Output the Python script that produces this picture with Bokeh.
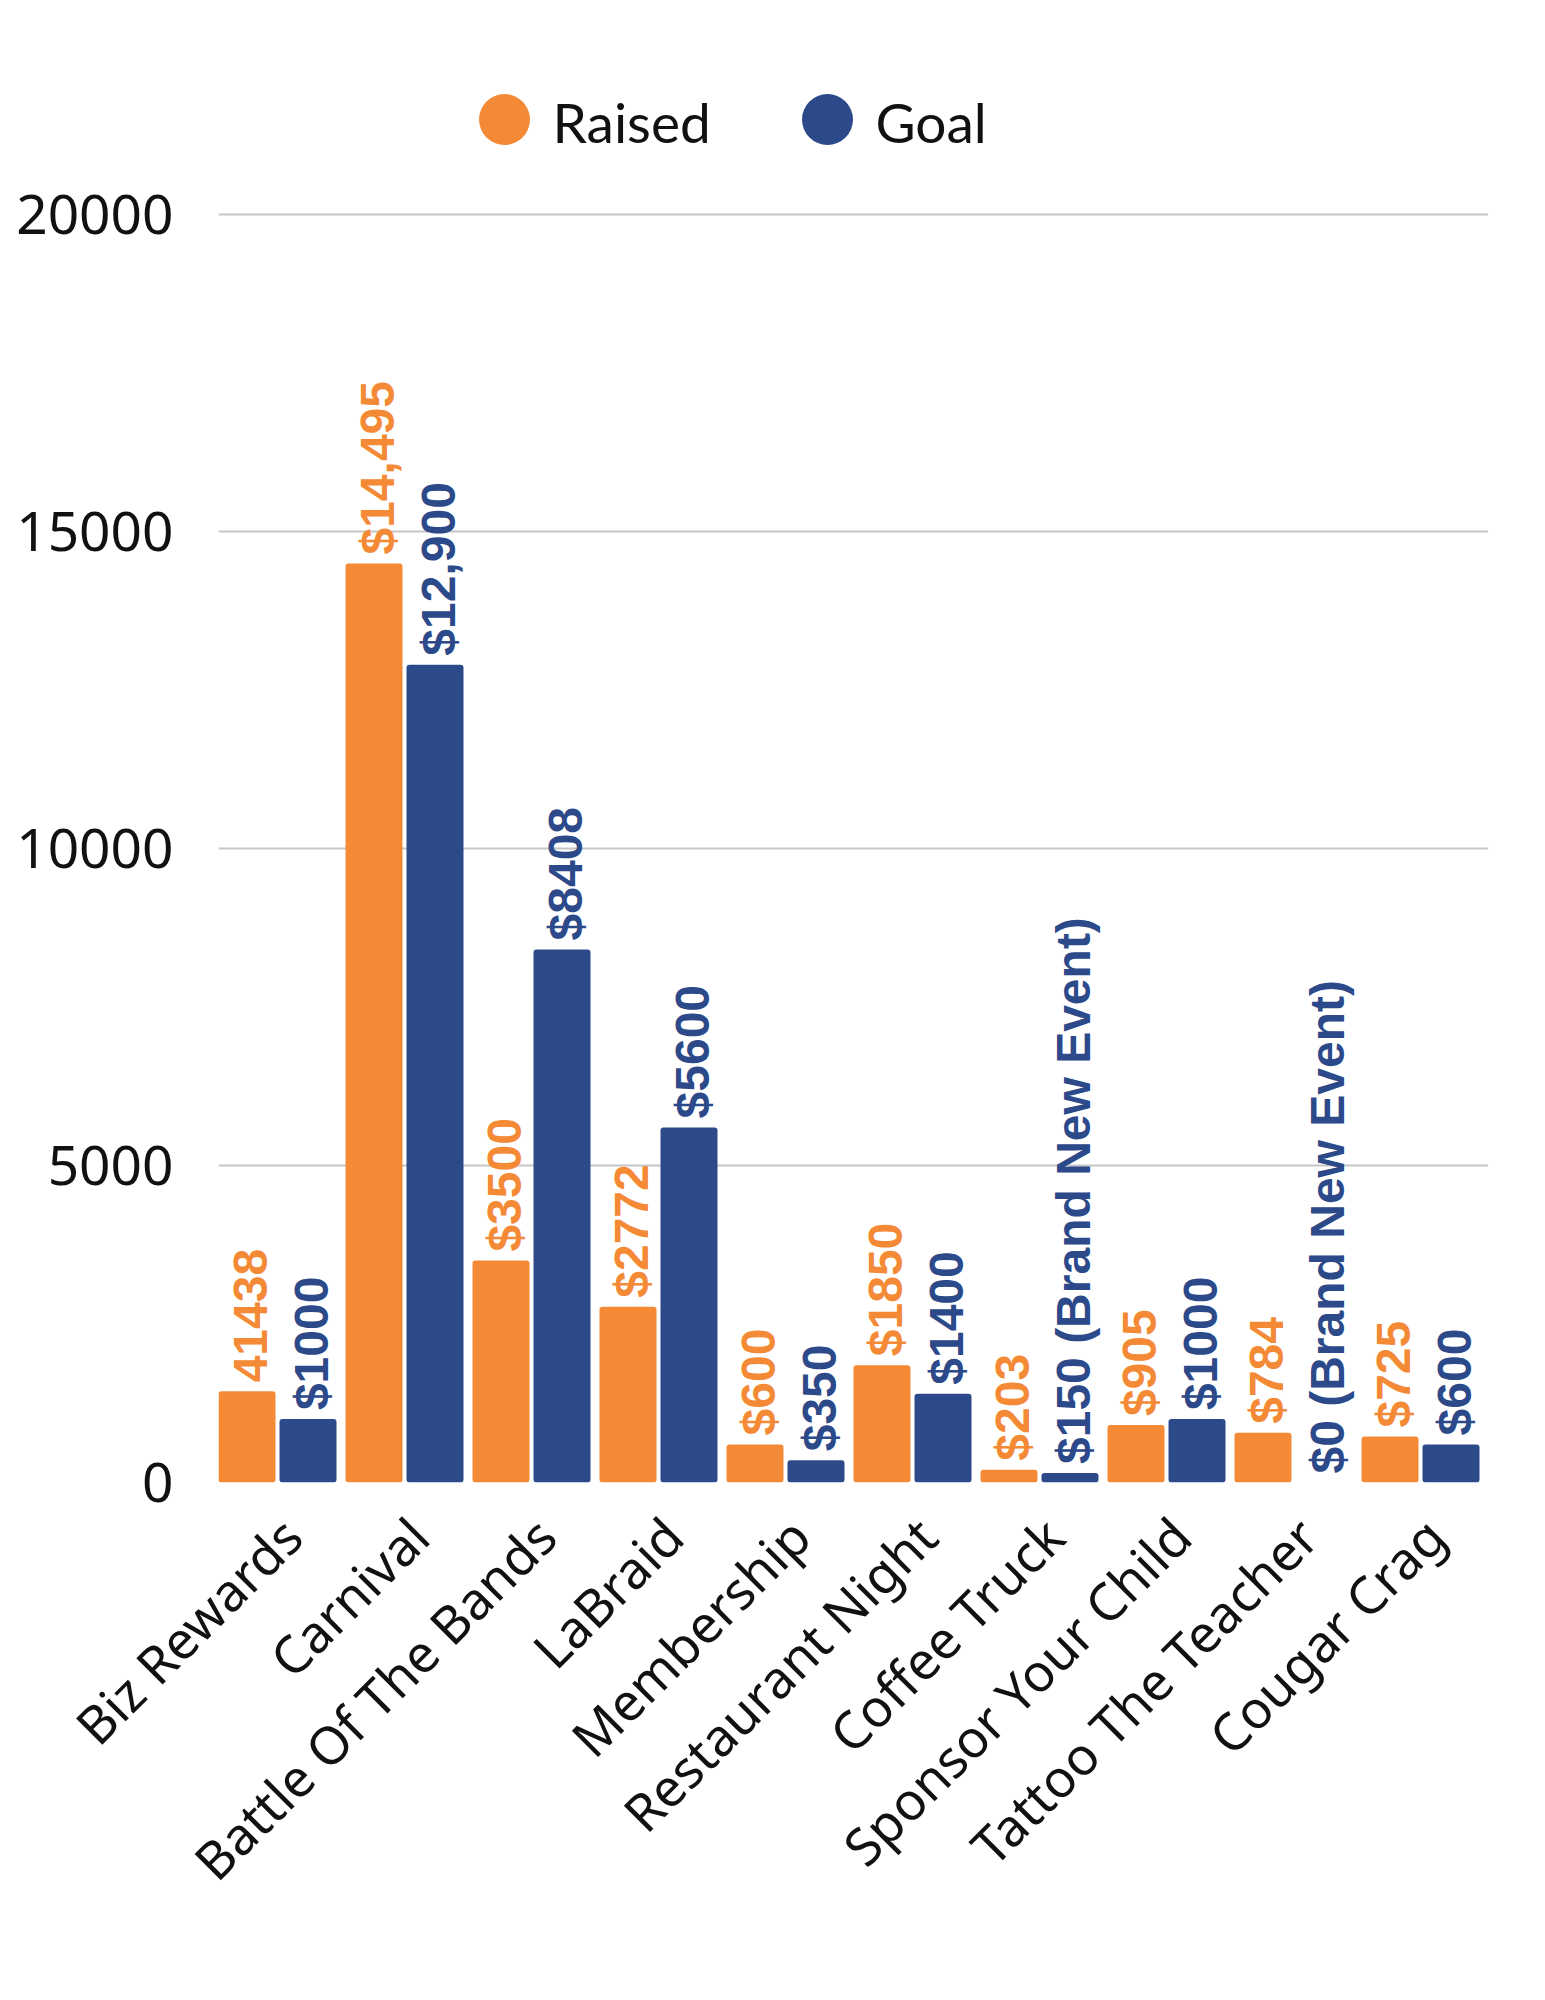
import numpy as np
from bokeh.plotting import figure
from bokeh.models import Range1d, FixedTicker, ColumnDataSource
from bokeh.core.properties import value
from bokeh.embed import file_html
from bokeh.resources import INLINE

# ---------------- data ----------------
categories = ["Biz Rewards", "Carnival", "Battle Of The Bands", "LaBraid", "Membership",
              "Restaurant Night", "Coffee Truck", "Sponsor Your Child", "Tattoo The Teacher",
              "Cougar Crag"]
raised = [1438, 14495, 3500, 2772, 600, 1850, 203, 905, 784, 725]
goal = [1000, 12900, 8408, 5600, 350, 1400, 150, 1000, 0, 600]
raised_labels = ["41438", "$14,495", "$3500", "$2772", "$600", "$1850", "$203", "$905", "$784", "$725"]
goal_labels = ["$1000", "$12,900", "$8408", "$5600", "$350", "$1400", "$150 (Brand New Event)",
               "$1000", "$0 (Brand New Event)", "$600"]
y_ticks = [0, 5000, 10000, 15000, 20000]
series_names = ["Raised", "Goal"]

# ---------------- style / layout ----------------
ORANGE = "#F48A36"
BLUE = "#2C4A8A"
FRAME_LEFT = 218
FRAME_TOP = 14
FRAME_W = 1270
FRAME_H = 1468
FIG_W = 1529
FIG_H = 1984
PX_PER_UNIT = 0.0634
Y_END = FRAME_H / PX_PER_UNIT
CAT_PX = FRAME_W / len(categories)
BAR_W = 57 / CAT_PX
ORANGE_OFF = 28.5 / CAT_PX
BLUE_OFF = (61 + 28.5) / CAT_PX
TICK_OFF = 0.575
BASE_Y = FRAME_TOP + FRAME_H


def px_x(px):
    return (px - FRAME_LEFT) / CAT_PX


def px_y(py):
    return (BASE_Y - py) / PX_PER_UNIT


idx = np.arange(len(categories))

p = figure(width=FIG_W, height=FIG_H,
           frame_width=FRAME_W, frame_height=FRAME_H,
           min_border_left=FRAME_LEFT, min_border_right=FIG_W - FRAME_LEFT - FRAME_W,
           min_border_top=FRAME_TOP, min_border_bottom=FIG_H - FRAME_TOP - FRAME_H,
           x_range=Range1d(0, len(categories)), y_range=Range1d(0, Y_END),
           output_backend="svg", toolbar_location=None)
p.outline_line_color = None
p.background_fill_color = "white"
p.border_fill_color = "white"

src_r = ColumnDataSource(dict(x=idx + ORANGE_OFF, top=raised, label=raised_labels))
src_g = ColumnDataSource(dict(x=idx + BLUE_OFF, top=goal, label=goal_labels))

p.vbar(x="x", top="top", bottom=0, width=BAR_W, source=src_r, fill_color=ORANGE,
       line_color=None, border_radius=3)
p.vbar(x="x", top="top", bottom=0, width=BAR_W, source=src_g, fill_color=BLUE,
       line_color=None, border_radius=3)

for src, col in ((src_r, ORANGE), (src_g, BLUE)):
    p.text(x="x", y="top", text="label", source=src, angle=np.pi / 2,
           text_align="left", text_baseline="middle", y_offset=-9, x_offset=3,
           text_color=col, text_font=value("Liberation Sans"), text_font_style="bold",
           text_font_size="48px")

# legend (drawn in the top area of the frame)
leg_y = px_y(119)
leg_src = ColumnDataSource(dict(
    x=[px_x(504), px_x(827)],
    tx=[px_x(552), px_x(875)],
    y=[leg_y, leg_y], name=series_names, color=[ORANGE, BLUE]))
p.scatter(x="x", y="y", source=leg_src, size=51, fill_color="color", line_color=None)
p.text(x="tx", y="y", text="name", source=leg_src, text_align="left", text_baseline="middle",
       text_color="#111111", text_font=value("Lato"), text_font_size="55px", y_offset=2)

# axes
p.yaxis.ticker = FixedTicker(ticks=y_ticks)
p.yaxis.axis_line_color = None
p.yaxis.major_tick_line_color = None
p.yaxis.minor_tick_line_color = None
p.yaxis.major_label_standoff = 39
p.yaxis.major_label_text_font = "Noto Sans"
p.yaxis.major_label_text_font_size = "55px"
p.yaxis.major_label_text_color = "#111111"

xt = [float(i + TICK_OFF) for i in idx]
p.xaxis.ticker = FixedTicker(ticks=xt)
p.xaxis.major_label_overrides = {t: c for t, c in zip(xt, categories)}
p.xaxis.major_label_orientation = np.pi / 4
p.xaxis.axis_line_color = None
p.xaxis.major_tick_line_color = None
p.xaxis.minor_tick_line_color = None
p.xaxis.major_label_standoff = 38
p.xaxis.major_label_text_font = "Noto Sans"
p.xaxis.major_label_text_font_size = "52px"
p.xaxis.major_label_text_color = "#111111"

p.xgrid.grid_line_color = None
p.ygrid.ticker = FixedTicker(ticks=y_ticks)
p.ygrid.grid_line_color = "#c6c6c6"
p.ygrid.grid_line_width = 2

open("out.html", "w").write(file_html(p, INLINE))
